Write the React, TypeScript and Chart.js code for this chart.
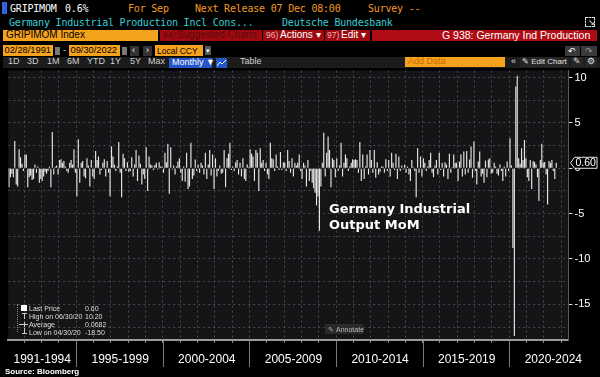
import React, { useEffect, useRef } from "react";
import { Chart, registerables } from "chart.js";
Chart.register(...registerables);

// ---------- DATA (monthly % change, Feb 1991 .. Sep 2022) ----------
const p1991_1994 = [-2.1, -1.0, -0.6, -1.0, 3.0, -1.8, -2.0, 2.1, 1.2, 0.5, -0.3, 1.5, 1.5, -2.1, -1.0, -0.8, -1.3, -1.2, 0.4, -0.5, 0.2, -1.6, -1.2, -1.4, -0.9, -0.4, -0.6, -0.3, 0.2, -2.1, 4.0, -0.7, 0.15, 0.3, -0.7, 0.9, 1.0, 0.6, 0.8, 0.2, -0.3, -0.5, 0.6, 0.9, 0.4, 2.1, -0.5];
const p1995_1999 = [-3.1, 3.2, -1.6, 0.6, 0.8, -0.9, -1.1, 1.1, 0.3, -2.0, 0.9, -0.9, -1.2, 1.9, 0.9, 1.3, -0.7, -0.2, 0.6, 1.0, -0.9, 0.8, -0.5, -3.1, 2.4, 1.3, 0.4, -0.3, 0.2, 2.9, -0.5, -3.2, 1.6, 1.1, -0.3, 0.65, -0.4, -0.3, 1.2, -0.9, 0.4, 2.0, -1.4, 1.4, 0.5, -1.8, -0.7, -1.2, 2.3, -2.5, 1.3, 0.4, 0.3, -0.2, 0.35, 0.6, -0.15, 0.65, 0.2, 0.15];
const p2000_2004 = [-0.5, 1.7, 0.65, 2.7, -2.8, 2.3, -0.15, 0.3, -0.7, 0.2, 0.75, 1.1, -0.5, -1.4, 0.2, -1.5, 1.7, -2.3, -2.0, 2.8, -1.2, -0.8, 0.95, -0.3, 0.4, -0.5, 0.6, 0.3, -0.7, 1.7, -1.2, 0.4, 2.0, -0.8, 1.5, -2.3, 1.1, -0.9, -0.3, 0.3, -0.6, -0.5, 2.0, -2.1, 1.1, 1.6, 2.8, -0.2, 0.2, -0.3, 0.65, 0.9, -0.7, 0.6, -0.9, 1.1, -1.2, -1.4, 0.4, 0.1];
const p2005_2009 = [2.1, 1.6, 1.3, -1.4, 2.0, 1.7, -2.5, 2.2, 0.6, 0.9, -0.3, 0.6, -0.7, -1.2, 2.8, 1.1, 1.0, -0.3, 1.5, 0.2, -0.2, 1.8, -0.2, 0.65, 0.6, -0.3, 2.0, 0.8, -0.5, 1.1, -0.9, 0.6, 0.3, 0.6, 1.5, -0.3, -1.2, 0.6, 0.3, -2.0, 0.9, -1.4, -0.3, -1.6, -2.2, -2.7, -4.1, -3.1, -6.9, -2.0, 0.6, 3.9, -0.9, 1.7, 3.5, 2.0, -2.1, 1.1, 0.9, -1.0];
const p2010_2014 = [1.1, -0.3, 0.3, 2.8, -0.9, 0.6, 1.5, 1.1, -0.3, 0.2, 0.6, 1.0, 0.9, 1.0, 0.9, -0.5, 2.9, -1.4, 1.5, -1.2, 0.2, 1.5, -0.7, 2.0, 0.9, -0.5, 2.0, -1.05, 0.65, -0.7, -0.4, 0.2, 0.2, -0.5, 1.0, -0.3, 0.9, -0.9, 1.7, 0.6, -0.2, 1.6, -1.2, 1.3, -0.3, 0.3, -0.15, 0.4, -0.5, 0.2, -0.7, -1.4, 0.9, 0.1, -0.3, -3.2, 2.2, -0.5, 1.3, -0.9];
const p2015_2019 = [1.1, 0.6, -0.3, 0.2, 0.9, 1.7, -0.5, -1.0, 0.3, 0.9, -0.7, 1.7, -0.2, 0.6, -0.9, 0.65, 0.4, -1.2, 1.6, -0.5, 0.1, 1.5, 0.6, 0.6, -1.4, 0.75, 1.55, -0.9, 1.85, -0.7, 1.9, -0.5, 0.95, 2.4, -1.05, 2.95, -0.3, -1.8, 0.75, 1.85, -0.9, -0.6, -1.6, 0.85, -1.0, 0.95, 1.1, -0.6, -0.5, 0.6, 0.2, -0.6, -0.8, 0.4, -0.3, -1.4, 0.2, -0.9, 0.75, -0.3];
const p2020_2022 = [3.3, 0.3, -8.8, -18.5, 9.0, 10.2, 1.1, 0.5, 2.2, 0.9, 3.1, 1.1, -1.0, -1.4, 0.9, -2.3, 0.8, 0.7, 0.4, -1.0, -3.6, 0.9, 2.7, 0.6, 0.7, -0.7, -4.0, 0.8, 0.6, 0.9, -0.3, -1.2, 0.6];

const periodLabels = ["1991-1994", "1995-1999", "2000-2004", "2005-2009", "2010-2014", "2015-2019", "2020-2024"];
const periodStarts = [1991, 1995, 2000, 2005, 2010, 2015, 2020];
const periodEnds = [1994, 1999, 2004, 2009, 2014, 2019, 2024];
const yTickStep = 2.5;
const yLabelStep = 5;
const Y_MIN = -18.93;
const Y_MAX = 10.76;
const FIRST_YEAR = 1991;
const FIRST_MONTH = 2; // Feb
const EXTRA_MONTHS = 8; // empty axis space after the last observation

const legendRows = [
  { label: "Last Price", value: "0.60" },
  { label: "High on 06/30/20", value: "10.20" },
  { label: "Average", value: "0.0682" },
  { label: "Low on 04/30/20", value: "-18.50" },
];

const values: (number | null)[] = [
  ...p1991_1994, ...p1995_1999, ...p2000_2004, ...p2005_2009, ...p2010_2014, ...p2015_2019, ...p2020_2022,
];
const lastValue = values[values.length - 1] as number;
const allValues = values.concat(Array(EXTRA_MONTHS).fill(null));
const monthLabels: string[] = allValues.map((_, i) => {
  const m0 = FIRST_MONTH - 1 + i;
  const y = FIRST_YEAR + Math.floor(m0 / 12);
  const m = (m0 % 12) + 1;
  return `${y}-${m < 10 ? "0" + m : m}`;
});
const janIndex = (year: number) => (year - FIRST_YEAR) * 12 - (FIRST_MONTH - 1);
const labelAt: Record<number, string> = {};
periodLabels.forEach((lab, k) => {
  const mid = (periodStarts[k] + periodEnds[k] + 1) / 2;
  const M = Math.round((mid - FIRST_YEAR) * 12);
  labelAt[M - (FIRST_MONTH - 1)] = lab;
});

// ---------- STYLE ----------
const MONO = '"DejaVu Sans Mono", monospace';
const SANS = '"Liberation Sans", Arial, sans-serif';
const ORANGE_TXT = "#f39a26";
const ORANGE_BOX = "#f5a21c";
const CYAN = "#37cfd6";
const RED_DARK = "#9e0a10";
const RED_BRIGHT = "#b00c15";
const PLOT_BG = "#151518";
const GRID = "#4a4a4e";
const BAR = "#e6e6e6";

const Txt = ({ x, base, size = 10, fam = SANS, color = "#fff", weight = 400, ls = 0, children }: any) => (
  <span
    style={{
      position: "absolute", left: x, top: base - 0.846 * size, fontSize: size, lineHeight: `${size}px`,
      fontFamily: fam, color, fontWeight: weight, whiteSpace: "nowrap", letterSpacing: ls,
    }}
  >
    {children}
  </span>
);
const Box = ({ x, y, w, h, bg, border, children }: any) => (
  <div style={{ position: "absolute", left: x, top: y, width: w, height: h, background: bg, border, boxSizing: "border-box" }}>
    {children}
  </div>
);

const bgPlugin = {
  id: "plotBg",
  beforeDraw(chart: any) {
    const { ctx, chartArea: a } = chart;
    ctx.save();
    ctx.fillStyle = PLOT_BG;
    ctx.fillRect(a.left, a.top, a.right - a.left, a.bottom - a.top);
    ctx.restore();
  },
};

const overlayPlugin = {
  id: "overlay",
  afterDraw(chart: any) {
    const { ctx, chartArea: a } = chart;
    const xs = chart.scales.x;
    const ys = chart.scales.y;
    const half = (xs.getPixelForValue(1) - xs.getPixelForValue(0)) / 2;
    ctx.save();
    ctx.strokeStyle = "#7a7a7a";
    ctx.lineWidth = 1;
    periodStarts.slice(1).forEach((yr) => {
      const px = Math.round(xs.getPixelForValue(janIndex(yr)) - half) + 0.5;
      ctx.beginPath();
      ctx.moveTo(px, a.bottom + 1);
      ctx.lineTo(px, a.bottom + 27);
      ctx.stroke();
    });
    const py = ys.getPixelForValue(lastValue);
    const x0 = a.right + 2;
    ctx.beginPath();
    ctx.moveTo(x0, py);
    ctx.lineTo(x0 + 4, py - 5.5);
    ctx.lineTo(a.right + 28.5, py - 5.5);
    ctx.lineTo(a.right + 28.5, py + 5.5);
    ctx.lineTo(x0 + 4, py + 5.5);
    ctx.closePath();
    ctx.fillStyle = "#000";
    ctx.fill();
    ctx.strokeStyle = "#e8e8e8";
    ctx.stroke();
    ctx.fillStyle = "#fff";
    ctx.font = '10.5px "Liberation Sans", Arial, sans-serif';
    ctx.textBaseline = "middle";
    ctx.textAlign = "left";
    ctx.fillText(lastValue.toFixed(2), x0 + 5, py + 0.5);
    ctx.restore();
  },
};

function BarChart() {
  const ref = useRef<HTMLCanvasElement | null>(null);
  useEffect(() => {
    if (!ref.current) return;
    const chart = new Chart(ref.current, {
      type: "bar",
      data: {
        labels: monthLabels,
        datasets: [
          { data: allValues as any, backgroundColor: BAR, borderWidth: 0, barPercentage: 0.8, categoryPercentage: 1 },
        ],
      },
      options: {
        animation: false,
        responsive: false,
        maintainAspectRatio: false,
        layout: { padding: { left: 1.3, right: 0, top: 6, bottom: 0 } },
        plugins: { legend: { display: false }, tooltip: { enabled: false } },
        scales: {
          x: {
            type: "category",
            offset: true,
            grid: {
              offset: true,
              drawOnChartArea: true,
              drawTicks: true,
              tickLength: 3,
              lineWidth: 1,
              color: (c: any) => ((c.index + FIRST_MONTH - 1) % 12 === 0 ? GRID : "transparent"),
              tickColor: (c: any) => ((c.index + FIRST_MONTH - 1) % 12 === 0 ? "#8a8a8a" : "transparent"),
            },
            border: { display: true, color: "#9a9a9a", width: 2, dash: [2, 3] },
            ticks: {
              autoSkip: false,
              maxRotation: 0,
              minRotation: 0,
              padding: 9,
              color: "#ffffff",
              font: { family: "Liberation Sans", size: 12 },
              callback: (_v: any, i: number) => labelAt[i] ?? "",
            },
            afterFit: (s: any) => {
              s.height = 30;
            },
          },
          y: {
            position: "right",
            min: Y_MIN,
            max: Y_MAX,
            grid: {
              color: GRID,
              lineWidth: 1,
              tickLength: 4,
              tickColor: (c: any) => (c.tick && Math.abs(c.tick.value % yLabelStep) < 1e-9 ? "#dddddd" : "transparent"),
            },
            border: { display: true, color: "#5a5a5a", width: 1, dash: [2, 3] },
            ticks: {
              stepSize: yTickStep,
              includeBounds: false,
              autoSkip: false,
              padding: 2,
              color: "#ffffff",
              font: { family: "Liberation Sans", size: 11 },
              callback: (v: any) => (Math.abs(Number(v) % yLabelStep) < 1e-9 ? String(Number(v)) : ""),
            },
            afterFit: (s: any) => {
              s.width = 31.5;
            },
          },
        },
      },
      plugins: [bgPlugin, overlayPlugin],
    } as any);
    return () => chart.destroy();
  }, []);
  return <canvas ref={ref} width={600} height={308} style={{ position: "absolute", left: 0, top: 62, width: 600, height: 308 }} />;
}

export default function App() {
  const btns: [string, number][] = [["1D", 8], ["3D", 27], ["1M", 47], ["6M", 67], ["YTD", 87], ["1Y", 110], ["5Y", 130], ["Max", 148]];
  return (
    <div style={{ position: "absolute", left: 0, top: 0, width: 600, height: 377, background: "#000", overflow: "hidden", fontFamily: SANS }}>
      {/* row 1 */}
      <Box x={2} y={2} w={5} h={12} bg="#2b63e0" />
      <Txt x={10} base={12.7} size={10} fam={MONO} ls={-0.2}>GRIPIMOM</Txt>
      <Txt x={65} base={12.7} size={10} fam={MONO} ls={-0.2}>0.6%</Txt>
      <Txt x={128} base={12.7} size={10} fam={MONO} ls={-0.2} color={ORANGE_TXT}>For Sep</Txt>
      <Txt x={195} base={12.7} size={10} fam={MONO} ls={-0.2} color={ORANGE_TXT}>Next Release 07 Dec 08:00</Txt>
      <Txt x={368} base={12.7} size={10} fam={MONO} ls={-0.2} color={ORANGE_TXT}>Survey --</Txt>
      {/* row 2 */}
      <Txt x={9} base={26.5} size={10} fam={MONO} ls={-0.2} color={CYAN}>Germany Industrial Production Incl Cons...</Txt>
      <Txt x={282} base={26.5} size={10} fam={MONO} ls={-0.2} color={CYAN}>Deutsche Bundesbank</Txt>
      <Box x={585} y={17} w={10} h={10} border="1px dashed #dddddd" />
      <Txt x={588} base={26} size={8} color="#fff">↘</Txt>
      {/* row 3 */}
      <Box x={3} y={29.5} w={155} h={11.5} bg={ORANGE_BOX} />
      <Txt x={6} base={38.3} size={10} color="#000">GRIPIMOM Index</Txt>
      <Box x={160} y={29.5} w={102} h={11.5} bg={RED_DARK} />
      <Txt x={163} base={38.3} size={8.5} color="#5e0b0d">94)</Txt>
      <Txt x={177} base={38.3} size={10} color="#5e0b0d">Suggested Charts</Txt>
      <Box x={263} y={29.5} w={61} h={11.5} bg={RED_DARK} />
      <Txt x={266} base={38.3} size={8.5} color="#f0b0b0">96)</Txt>
      <Txt x={280} base={38.3} size={10} color="#fff">Actions ▾</Txt>
      <Box x={325} y={29.5} w={45} h={11.5} bg={RED_DARK} />
      <Txt x={327} base={38.3} size={8.5} color="#f0b0b0">97)</Txt>
      <Txt x={341} base={38.3} size={10} color="#fff">Edit ▾</Txt>
      <Box x={372} y={29.5} w={225} h={11.5} bg={RED_BRIGHT} />
      <Txt x={442} base={38.5} size={10.5} color="#fff">G 938: Germany Ind Production</Txt>
      {/* row 4 */}
      <Box x={3} y={45} w={50} h={10.5} bg={ORANGE_BOX} />
      <Txt x={4.5} base={54} size={9.3} color="#000">02/28/1991</Txt>
      <Box x={54.5} y={46.5} w={5} h={8} bg="#777" />
      <Txt x={63} base={53.5} size={9} color="#ddd">-</Txt>
      <Box x={69} y={45} w={51} h={10.5} bg={ORANGE_BOX} />
      <Txt x={70.5} base={54} size={9.3} color="#000">09/30/2022</Txt>
      <Box x={121.5} y={46.5} w={5} h={8} bg="#777" />
      <Box x={130} y={45.5} w={9} h={10} bg="#333" />
      <Txt x={132} base={53.5} size={9} color="#fff">‹</Txt>
      <Box x={143} y={45.5} w={9} h={10} bg="#333" />
      <Txt x={146} base={53.5} size={9} color="#fff">›</Txt>
      <Box x={155} y={45} w={48} h={10.5} bg={ORANGE_BOX} />
      <Txt x={157} base={54} size={8.5} color="#000">Local CCY</Txt>
      <Box x={205} y={46} w={6} h={9} bg="#555" />
      <Txt x={205.5} base={53} size={7} color="#fff">▾</Txt>
      <Box x={565} y={46} w={15} h={10} bg="#3a3a3a" />
      <Txt x={568} base={54.5} size={9} color="#fff">↶</Txt>
      <Box x={581} y={46} w={16} h={10} bg="#3a3a3a" />
      <Txt x={585} base={54.5} size={9} color="#999">↷</Txt>
      {/* row 5 */}
      <Box x={3} y={56.5} w={597} h={11.5} bg="#1c1c1c" />
      {btns.map(([t, x]) => (
        <Txt key={t} x={x} base={65} size={9} color="#cfcfcf">{t}</Txt>
      ))}
      <Box x={169} y={57.5} w={43} h={10} bg="#2356c8" />
      <Txt x={172} base={65.3} size={9} color="#fff">Monthly ▼</Txt>
      <Box x={216} y={57.5} w={11} h={10} bg="#2356c8" />
      <svg style={{ position: "absolute", left: 217, top: 58.5 }} width={9} height={8}>
        <polyline points="0,7 3,3 5,5 9,1" fill="none" stroke="#fff" strokeWidth={1} />
      </svg>
      <Txt x={240} base={65} size={9} color="#cfcfcf">Table</Txt>
      <Box x={405} y={57} w={100} h={9.5} bg={ORANGE_BOX} />
      <Txt x={408} base={64.7} size={9} color="#c86a00">Add Data</Txt>
      <Txt x={511} base={65} size={9} color="#ddd">«</Txt>
      <Box x={520} y={57} w={49} h={10} bg="#262626" />
      <Txt x={522} base={65} size={8} color="#e0e0e0">✎ Edit Chart</Txt>
      <Box x={571} y={57} w={12} h={10} bg="#262626" />
      <Txt x={573} base={65} size={9} color="#e0e0e0">✎</Txt>
      <Box x={585} y={57} w={12} h={10} bg="#262626" />
      <Txt x={586.5} base={65} size={9} color="#e0e0e0">⚙</Txt>

      <BarChart />

      {/* chart annotation */}
      <div style={{ position: "absolute", left: 329, top: 201, fontFamily: '"DejaVu Sans", sans-serif', fontWeight: 700, fontSize: 13, lineHeight: "16px", color: "#fff", whiteSpace: "nowrap" }}>
        Germany Industrial
        <br />
        Output MoM
      </div>

      {/* legend */}
      <div style={{ position: "absolute", left: 17, top: 304, width: 0, height: 28, borderLeft: "1px dotted #888" }} />
      <Box x={21} y={305} w={6} h={6} bg="#fff" />
      <Box x={23.5} y={313} w={1} h={6} bg="#ccc" />
      <Box x={21.5} y={313} w={5} h={1} bg="#ccc" />
      <Box x={19} y={324} w={9} h={1} bg="#ccc" />
      <Box x={23.5} y={322} w={1} h={5} bg="#ccc" />
      <Box x={23.5} y={328} w={1} h={6} bg="#ccc" />
      <Box x={21.5} y={333} w={5} h={1} bg="#ccc" />
      {legendRows.map((r, k) => (
        <React.Fragment key={r.label}>
          <Txt x={29} base={310.5 + k * 8} size={7} color="#dedede">{r.label}</Txt>
          <Txt x={85} base={310.5 + k * 8} size={7} color="#dedede">{r.value}</Txt>
        </React.Fragment>
      ))}
      <Box x={325} y={324} w={38} h={9.5} bg="#2a2a2a" />
      <Txt x={328} base={331.5} size={7} color="#aaa">✎</Txt>
      <Txt x={336} base={331.5} size={7} color="#bbb">Annotate</Txt>

      <Txt x={5} base={374.5} size={8} weight={700} color="#fff">Source: Bloomberg</Txt>
    </div>
  );
}
